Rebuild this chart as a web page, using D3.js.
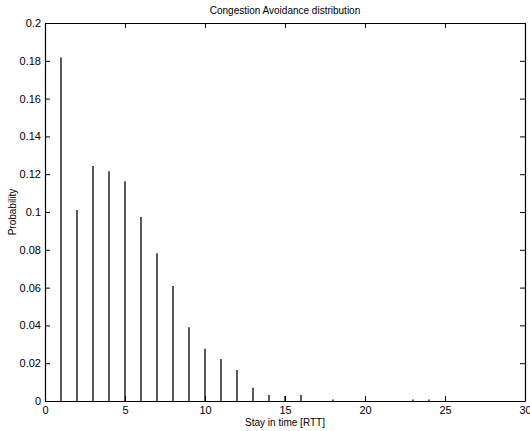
<!DOCTYPE html>
<html>
<head>
<meta charset="utf-8">
<script src="https://cdn.jsdelivr.net/npm/d3@7"></script>
<style>
  body { margin: 0; background: #fff; }
  svg text { font-family: 'Liberation Sans', Arial, sans-serif; fill: #000; }
</style>
</head>
<body>
<div id="chart"></div>
<script>
// data
const stayTimes = [1, 2, 3, 4, 5, 6, 7, 8, 9, 10, 11, 12, 13, 14, 15, 16, 18, 23, 24];
const probabilities = [0.1817, 0.101, 0.1244, 0.1216, 0.1163, 0.0973, 0.0782, 0.0608,
  0.039, 0.0277, 0.0222, 0.0164, 0.007, 0.0032, 0.0026, 0.0032, 0.0008, 0.0008, 0.0008];
const xTicks = [0, 5, 10, 15, 20, 25, 30];
const yTicks = [0, 0.02, 0.04, 0.06, 0.08, 0.1, 0.12, 0.14, 0.16, 0.18, 0.2];

const data = stayTimes.map((t, i) => ({ t: t, p: probabilities[i] }));

const dims = { width: 530, height: 431 };
const margin = { left: 45, right: 5, top: 23, bottom: 30 };
const tickLen = 5;

const svg = d3.select('#chart')
  .append('svg')
  .attr('width', dims.width)
  .attr('height', dims.height);

const x = d3.scaleLinear().domain([0, 30]).range([margin.left, dims.width - margin.right]);
const y = d3.scaleLinear().domain([0, 0.2]).range([dims.height - margin.bottom, margin.top]);

const fmt = (d) => (d === 0 ? '0' : String(+d.toFixed(2)));

// bottom + top axes, ticks pointing inwards
svg.append('g')
  .attr('transform', `translate(0, ${y(0)})`)
  .call(d3.axisBottom(x).tickValues(xTicks).tickSizeInner(-tickLen).tickSizeOuter(0).tickPadding(5).tickFormat(fmt))
  .call((g) => g.selectAll('text').attr('font-size', 11));

svg.append('g')
  .attr('transform', `translate(0, ${y(0.2)})`)
  .call(d3.axisTop(x).tickValues(xTicks).tickSizeInner(-tickLen).tickSizeOuter(0).tickFormat(''));

// left + right axes
svg.append('g')
  .attr('transform', `translate(${x(0)}, 0)`)
  .call(d3.axisLeft(y).tickValues(yTicks).tickSizeInner(-tickLen).tickSizeOuter(0).tickPadding(4).tickFormat(fmt))
  .call((g) => g.selectAll('text').attr('font-size', 11));

svg.append('g')
  .attr('transform', `translate(${x(30)}, 0)`)
  .call(d3.axisRight(y).tickValues(yTicks).tickSizeInner(-tickLen).tickSizeOuter(0).tickFormat(''));

svg.selectAll('.domain').attr('stroke', '#000').attr('stroke-width', 1.2);
svg.selectAll('.tick line').attr('stroke', '#000');

// stems
svg.append('g')
  .selectAll('line')
  .data(data)
  .enter()
  .append('line')
  .attr('x1', (d) => x(d.t))
  .attr('x2', (d) => x(d.t))
  .attr('y1', y(0))
  .attr('y2', (d) => y(d.p))
  .attr('stroke', '#000')
  .attr('stroke-width', 1.3);

// labels
svg.append('text')
  .attr('x', (x(0) + x(30)) / 2)
  .attr('y', 14)
  .attr('text-anchor', 'middle')
  .attr('font-size', 10)
  .text('Congestion Avoidance distribution');

svg.append('text')
  .attr('x', (x(0) + x(30)) / 2)
  .attr('y', 426)
  .attr('text-anchor', 'middle')
  .attr('font-size', 10)
  .text('Stay in time [RTT]');

svg.append('text')
  .attr('transform', `translate(16, ${(y(0) + y(0.2)) / 2}) rotate(-90)`)
  .attr('text-anchor', 'middle')
  .attr('font-size', 10)
  .text('Probability');
</script>
</body>
</html>
